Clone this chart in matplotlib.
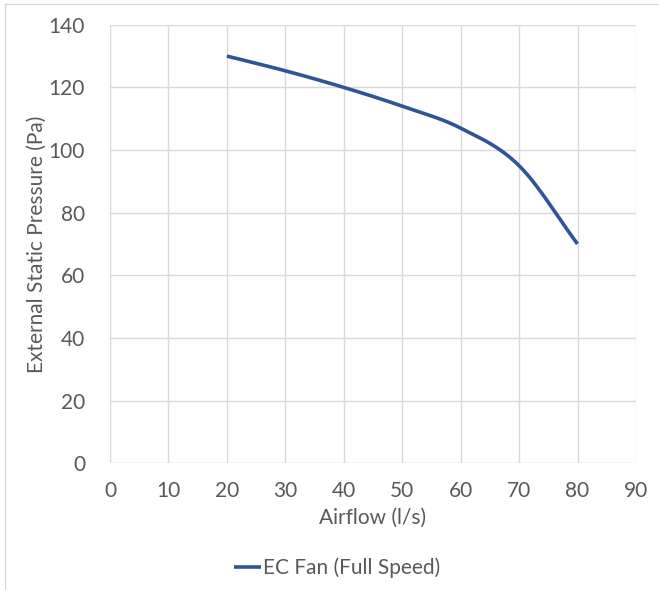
import numpy as np
import matplotlib.pyplot as plt
from matplotlib.lines import Line2D

# fan curve points
airflow = [20, 30, 40, 50, 60, 70, 80]
pressure = [130, 125.3, 120, 114, 107, 95, 70]
x_ticks = [0, 10, 20, 30, 40, 50, 60, 70, 80, 90]
y_ticks = [0, 20, 40, 60, 80, 100, 120, 140]

series_name = 'EC Fan (Full Speed)'
line_color = '#2F5597'
text_color = '#595959'
grid_color = '#D9D9D9'

plt.rcParams['font.family'] = ['Lato', 'DejaVu Sans']


def smooth(xs, ys, n=30):
    # Catmull-Rom style smoothing like a spreadsheet "smoothed line"
    xs = np.asarray(xs, float)
    ys = np.asarray(ys, float)
    px = np.concatenate([[2 * xs[0] - xs[1]], xs, [2 * xs[-1] - xs[-2]]])
    py = np.concatenate([[2 * ys[0] - ys[1]], ys, [2 * ys[-1] - ys[-2]]])
    out_x, out_y = [], []
    for i in range(1, len(px) - 2):
        t = np.linspace(0, 1, n)
        for arr, out in ((px, out_x), (py, out_y)):
            p0, p1, p2, p3 = arr[i - 1], arr[i], arr[i + 1], arr[i + 2]
            out.extend(0.5 * ((2 * p1) + (-p0 + p2) * t
                              + (2 * p0 - 5 * p1 + 4 * p2 - p3) * t ** 2
                              + (-p0 + 3 * p1 - 3 * p2 + p3) * t ** 3))
    return out_x, out_y


fig = plt.figure(figsize=(6.59, 5.9), dpi=100)
ax = fig.add_axes([0.167, 0.215, 0.798, 0.743])

sx, sy = smooth(airflow, pressure)
ax.plot(sx, sy, color=line_color, linewidth=2.6, solid_capstyle='butt', label=series_name)

ax.set_xlim(0, 90)
ax.set_ylim(0, 140)
ax.set_xticks(x_ticks)
ax.set_yticks(y_ticks)
ax.grid(True, color=grid_color, linewidth=1)
ax.set_axisbelow(True)
for s in ax.spines.values():
    s.set_visible(False)
ax.tick_params(length=0, labelsize=15, labelcolor=text_color)
ax.tick_params(axis='y', pad=18)
ax.tick_params(axis='x', pad=13)

ax.set_xlabel('Airflow (l/s)', fontsize=15, color=text_color, labelpad=5)
ax.set_ylabel('External Static Pressure (Pa)', fontsize=15, color=text_color, labelpad=1)

leg = ax.legend(loc='center', bbox_to_anchor=(337 / 659, 1 - 568 / 590),
                bbox_transform=fig.transFigure, frameon=False,
                fontsize=15, handlelength=1.3, handletextpad=0.1, labelcolor=text_color)

# outer chart frame (partly cropped)
fig.add_artist(Line2D([5 / 659, 5 / 659], [0, 1 - 4 / 590], color=grid_color, lw=1))
fig.add_artist(Line2D([5 / 659, 1], [1 - 4 / 590, 1 - 4 / 590], color=grid_color, lw=1))

fig.savefig('out.png', dpi=100)
